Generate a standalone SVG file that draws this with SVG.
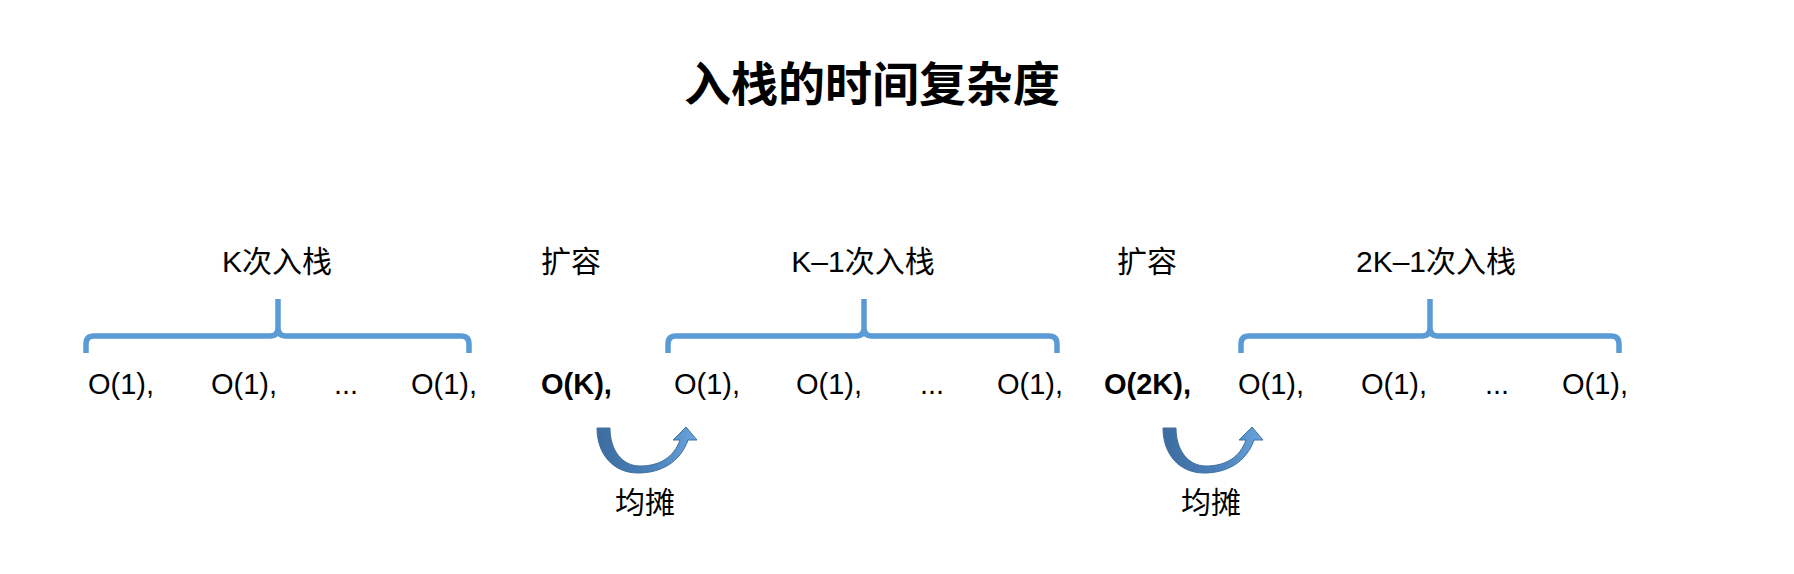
<svg xmlns="http://www.w3.org/2000/svg" width="1794" height="574" viewBox="0 0 1794 574">
<style>
text{font-family:"Liberation Sans","Noto Sans CJK SC",sans-serif;fill:#000}
.t{font-size:47px;font-weight:bold;text-anchor:middle}
.lab{font-size:30px;text-anchor:middle}
.o{font-size:29px}
.b{font-size:29px;font-weight:bold}
.br{fill:none;stroke:#5b9bd5;stroke-width:5.5;stroke-linecap:butt;stroke-linejoin:round}
.arr{fill:url(#ag);stroke:#41719c;stroke-width:1}
</style>
<defs>
<linearGradient id="ag" x1="0" y1="0" x2="1" y2="0">
<stop offset="0" stop-color="#3d6da0"/>
<stop offset="0.55" stop-color="#4a80bb"/>
<stop offset="1" stop-color="#6aa5de"/>
</linearGradient>
<path id="curv" d="M597,428 C597,455 614,473 638,473 C660,473 680,463 688,440 L697,440 L686,427 L673,440 L680,440 C674,457 660,466 640,466 C622,466 610,450 610,428 Z"/>
</defs>
<rect width="1794" height="574" fill="#fff"/>
<g id="title"><text class="t" x="872" y="101">入栈的时间复杂度</text></g>

<g id="connectors">
<path class="br" d="M86,353 L86,344 Q86,336 94,336 L270,336 Q278,336 278,328 L278,299 M278,328 Q278,336 286,336 L461,336 Q469,336 469,344 L469,353"/>
<path class="br" d="M668,353 L668,344 Q668,336 676,336 L856,336 Q864,336 864,328 L864,299 M864,328 Q864,336 872,336 L1049,336 Q1057,336 1057,344 L1057,353"/>
<path class="br" d="M1241,353 L1241,344 Q1241,336 1249,336 L1422,336 Q1430,336 1430,328 L1430,299 M1430,328 Q1430,336 1438,336 L1611,336 Q1619,336 1619,344 L1619,353"/>
<use href="#curv" class="arr"/>
<use href="#curv" class="arr" transform="translate(566,0)"/>
</g>

<g id="label-k"><text class="lab" x="277" y="272">K次入栈</text></g>
<g id="label-expand1"><text class="lab" x="571" y="272">扩容</text></g>
<g id="label-k1"><text class="lab" x="863" y="272">K–1次入栈</text></g>
<g id="label-expand2"><text class="lab" x="1147" y="272">扩容</text></g>
<g id="label-2k1"><text class="lab" x="1436" y="272">2K–1次入栈</text></g>

<g id="row1">
<text class="o" x="88" y="394">O(1),</text>
<text class="o" x="211" y="394">O(1),</text>
<text class="o" x="334" y="394">...</text>
<text class="o" x="411" y="394">O(1),</text>
</g>
<g id="ok"><text class="b" x="541" y="394">O(K),</text></g>
<g id="row2">
<text class="o" x="674" y="394">O(1),</text>
<text class="o" x="796" y="394">O(1),</text>
<text class="o" x="920" y="394">...</text>
<text class="o" x="997" y="394">O(1),</text>
</g>
<g id="o2k"><text class="b" x="1104" y="394">O(2K),</text></g>
<g id="row3">
<text class="o" x="1238" y="394">O(1),</text>
<text class="o" x="1361" y="394">O(1),</text>
<text class="o" x="1485" y="394">...</text>
<text class="o" x="1562" y="394">O(1),</text>
</g>

<g id="amortize1"><text class="lab" x="645" y="513">均摊</text></g>
<g id="amortize2"><text class="lab" x="1211" y="513">均摊</text></g>
</svg>
